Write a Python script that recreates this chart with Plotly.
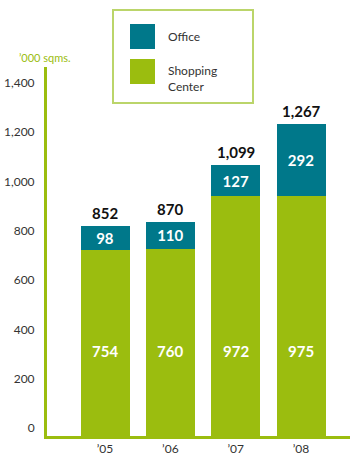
import plotly.graph_objects as go

# Gross leasable area by year, in thousand square metres
years = ["’05", "’06", "’07", "’08"]
shopping_center = [754, 760, 972, 975]
office = [98, 110, 127, 292]
totals = [852, 870, 1099, 1267]
y_ticks = [0, 200, 400, 600, 800, 1000, 1200, 1400]

GREEN = "#9BBD0F"
TEAL = "#00788A"
FRAME = "#BBD56A"
INK = "#333333"
FONT = "Lato"

W, H = 350, 456
L, R, T, B = 47, 0, 67, 20
pw, ph = W - L - R, H - T - B


def px(x):
    return (x - L) / pw


def py(y):
    return (H - B - y) / ph


fig = go.Figure()
fig.add_trace(go.Bar(
    x=years, y=shopping_center, name="Shopping Center",
    marker=dict(color=GREEN, line=dict(width=0)),
))
fig.add_trace(go.Bar(
    x=years, y=office, name="Office",
    marker=dict(color=TEAL, line=dict(width=0)),
    text=[str(v) for v in office], textposition="inside",
    insidetextanchor="middle",
    textfont=dict(family=FONT, size=15, color="white", weight="bold"),
))

annotations = []
# shopping-center values sit on a common line inside the green bars
for yr, v in zip(years, shopping_center):
    annotations.append(dict(
        x=yr, y=345, xref="x", yref="y", text=str(v), showarrow=False,
        font=dict(family=FONT, size=15, color="white", weight="bold"),
    ))
# totals above each stack
for yr, v in zip(years, totals):
    annotations.append(dict(
        x=yr, y=v, xref="x", yref="y", text=f"{v:,}", showarrow=False,
        yanchor="bottom", yshift=2,
        font=dict(family=FONT, size=15, color="#111111", weight="bold"),
    ))
# unit label
annotations.append(dict(
    x=px(17), y=py(57), xref="paper", yref="paper", text="’000 sqms.",
    showarrow=False, xanchor="left", yanchor="middle",
    font=dict(family=FONT, size=11, color=GREEN),
))
# legend text
annotations.append(dict(
    x=px(166), y=py(36), xref="paper", yref="paper", text="Office",
    showarrow=False, xanchor="left", yanchor="middle",
    font=dict(family=FONT, size=12, color=INK),
))
annotations.append(dict(
    x=px(166), y=py(79), xref="paper", yref="paper",
    text="Shopping<br>Center", showarrow=False, xanchor="left",
    yanchor="middle", align="left",
    font=dict(family=FONT, size=12, color=INK),
))

shapes = [
    # legend frame
    dict(type="rect", xref="paper", yref="paper",
         x0=px(113), x1=px(253), y0=py(103), y1=py(10),
         line=dict(color=FRAME, width=2), fillcolor="white", layer="below"),
    dict(type="rect", xref="paper", yref="paper",
         x0=px(130), x1=px(155), y0=py(49), y1=py(24),
         line=dict(width=0), fillcolor=TEAL),
    dict(type="rect", xref="paper", yref="paper",
         x0=px(130), x1=px(155), y0=py(84), y1=py(59),
         line=dict(width=0), fillcolor=GREEN),
]

fig.update_layout(
    width=W, height=H,
    margin=dict(l=L, r=R, t=T, b=B, pad=0),
    paper_bgcolor="white", plot_bgcolor="white",
    barmode="stack", bargap=0.25,
    showlegend=False,
    annotations=annotations, shapes=shapes,
    font=dict(family=FONT, size=11, color=INK),
    uniformtext=dict(minsize=15, mode="show"),
)
fig.update_xaxes(
    range=[-0.888, 3.75], showgrid=False, zeroline=False,
    showline=True, linecolor=GREEN, linewidth=3, ticks="",
    tickfont=dict(family=FONT, size=12, color=INK),
)
fig.update_yaxes(
    range=[0, 1497], tickvals=y_ticks, tickformat=",",
    showgrid=False, zeroline=False, showline=True, linecolor=GREEN,
    linewidth=3, ticks="", ticklabelstandoff=7, ticklabelshift=-8,
    tickfont=dict(family=FONT, size=12, color=INK),
)

fig.write_html("out.html")
